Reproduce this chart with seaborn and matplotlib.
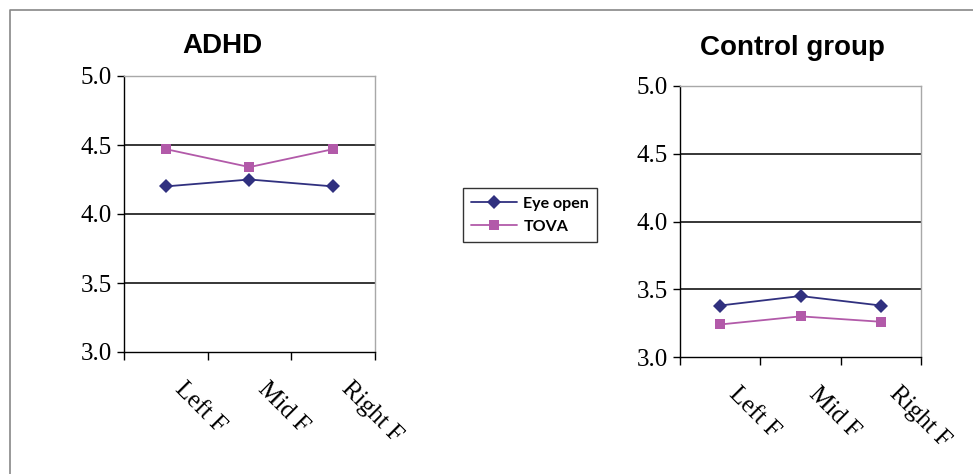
import numpy as np
import pandas as pd
import matplotlib
matplotlib.use("Agg")
import matplotlib.pyplot as plt
import matplotlib.transforms as mtrans
import seaborn as sns
from matplotlib.lines import Line2D

# data
regions = ["Left F", "Mid F", "Right F"]
adhd_eye = [4.20, 4.25, 4.20]
adhd_tova = [4.47, 4.34, 4.47]
ctrl_eye = [3.38, 3.45, 3.38]
ctrl_tova = [3.24, 3.30, 3.26]
yticks = [3.0, 3.5, 4.0, 4.5, 5.0]

navy = "#30307f"
pink = "#b25aa9"
pal = {"Eye open": navy, "TOVA": pink}
mk = {"Eye open": "D", "TOVA": "s"}

def make_df(eye, tova):
    n = len(regions)
    return pd.DataFrame({
        "pos": list(range(n)) * 2,
        "value": eye + tova,
        "series": ["Eye open"] * n + ["TOVA"] * n,
    })

sns.set_style("white")
fig = plt.figure(figsize=(9.73, 4.74), dpi=100)

serif = ["Liberation Serif", "DejaVu Serif"]
sans = ["Liberation Sans", "DejaVu Sans"]

def draw(ax, df, title, title_xy):
    sns.lineplot(data=df, x="pos", y="value", hue="series", style="series",
                 markers=mk, dashes=False, palette=pal, ax=ax, legend=False,
                 linewidth=1.3, markersize=7.5, markeredgewidth=0)
    ax.set_xlim(-0.5, len(regions) - 0.5)
    ax.set_ylim(3.0, 5.0)
    ax.set_yticks(yticks)
    ax.set_yticklabels(["%.1f" % v for v in yticks], fontfamily=serif, fontsize=18, color="black")
    for v in yticks[1:-1]:
        ax.axhline(v, color="black", lw=1.1, zorder=0)
    ax.set_xticks(np.arange(len(regions) + 1) - 0.5)
    ax.set_xticklabels([])
    ax.set_xticks(range(len(regions)), minor=True)
    ax.set_xticklabels(regions, minor=True, fontfamily=serif, fontsize=18, color="black",
                       rotation=-45, ha="left", va="center", rotation_mode="anchor")
    ax.tick_params(axis="x", which="major", direction="out", length=6, width=1, color="black", bottom=True)
    ax.tick_params(axis="x", which="minor", length=0, pad=24, bottom=True)
    ax.tick_params(axis="y", direction="out", length=5, width=1, color="black", left=True, pad=4)
    shift = mtrans.ScaledTranslation(0.12, 0, fig.dpi_scale_trans)
    for t in ax.get_xticklabels(minor=True):
        t.set_transform(t.get_transform() + shift)
    ax.set_xlabel("")
    ax.set_ylabel("")
    ax.spines["left"].set_color("black")
    ax.spines["bottom"].set_color("black")
    ax.spines["top"].set_color("#a8a8a8")
    ax.spines["right"].set_color("#a8a8a8")
    for s in ax.spines.values():
        s.set_linewidth(1.0)
        s.set_visible(True)
    fig.text(title_xy[0], title_xy[1], title, fontfamily=sans, fontweight="bold",
             fontsize=20, ha="center", va="baseline", color="black")

ax1 = fig.add_axes([124 / 973, 1 - 352 / 474, 251 / 973, 276 / 474])
draw(ax1, make_df(adhd_eye, adhd_tova), "ADHD", (222 / 973, 1 - 53 / 474))

ax2 = fig.add_axes([680 / 973, 1 - 357 / 474, 241 / 973, 271 / 474])
draw(ax2, make_df(ctrl_eye, ctrl_tova), "Control group", (792 / 973, 1 - 55 / 474))

# shared legend in the middle
handles = [Line2D([], [], color=pal[k], marker=mk[k], lw=1.3, markersize=7, markeredgewidth=0)
           for k in ["Eye open", "TOVA"]]
leg = fig.legend(handles, ["Eye open", "TOVA"], loc="center",
                 bbox_to_anchor=(530 / 973, 1 - 215 / 474), frameon=True, fancybox=False,
                 handlelength=2.9, prop={"family": ["Lato", "DejaVu Sans"], "weight": "bold", "size": 11.5},
                 borderpad=0.5, labelspacing=0.55, handletextpad=0.4, borderaxespad=0)
for txt in leg.get_texts():
    txt.set_color("black")
leg.get_frame().set_edgecolor("black")
leg.get_frame().set_linewidth(1.0)

# outer frame (left and top edges of the original screenshot)
fig.add_artist(Line2D([10 / 973, 10 / 973, 1.0], [0.0, 1 - 10 / 474, 1 - 10 / 474],
                      transform=fig.transFigure, color="#888888", lw=1.2))

fig.savefig("out.png", dpi=100)
